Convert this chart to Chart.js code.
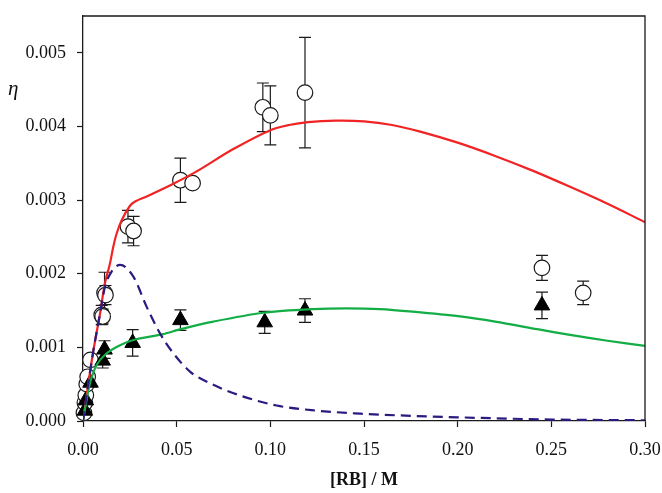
<!DOCTYPE html>
<html><head><meta charset="utf-8">
<script src="https://cdn.jsdelivr.net/npm/chart.js@4/dist/chart.umd.min.js"></script>
<style>html,body{margin:0;padding:0;background:#fff}#wrap{width:662px;height:493px}</style>
</head><body><div id="wrap"><canvas id="c" width="662" height="493"></canvas></div>
<script>
const xTicks = [0, 0.05, 0.10, 0.15, 0.20, 0.25, 0.30];
const yTicks = [0, 0.001, 0.002, 0.003, 0.004, 0.005];
const xTitle = '[RB] / M';
const yTitle = 'η';

// open circles (measured)
const circX = [0.0005,0.001,0.0015,0.002,0.0025,0.004,0.010,0.0105,0.0115,0.012,0.024,0.027,0.052,0.0585,0.096,0.100,0.1185,0.245,0.267];
const circY = [0.00011,0.00025,0.00035,0.0005,0.0006,0.00083,0.00144,0.00142,0.00174,0.00171,0.00264,0.00258,0.00327,0.00323,0.00426,0.00415,0.00446,0.00208,0.00174];
const circErr = [0,0,0,0,0,0,0.00013,0.0001,0.00028,0.00013,0.00022,0.0002,0.0003,0,0.00033,0.0004,0.00075,0.00017,0.00016];

// filled triangles (measured)
const triX = [0.001,0.0015,0.004,0.0105,0.0115,0.0265,0.052,0.097,0.1185,0.245];
const triY = [0.00014,0.00028,0.00052,0.00082,0.00097,0.00106,0.00137,0.00134,0.0015,0.00157];
const triErr = [0,0,0,0.0001,0.00012,0.00018,0.00014,0.00015,0.00016,0.00018];

// red fitted curve
const redX = [0,0.0028,0.0055,0.0091,0.0117,0.0144,0.0162,0.018,0.0207,0.025,0.0278,0.034,0.048,0.06,0.08,0.1,0.11,0.12,0.135,0.15,0.165,0.18,0.2,0.22,0.24,0.26,0.28,0.30];
const redY = [0,0.0005,0.00095,0.00146,0.00187,0.00214,0.00237,0.00255,0.00273,0.00292,0.00298,0.00305,0.00322,0.00338,0.00369,0.00395,0.00402,0.00406,0.00408,0.00407,0.00402,0.00393,0.00378,0.0036,0.0034,0.00318,0.00295,0.0027];

// green fitted curve
const greenX = [0,0.001,0.0037,0.0073,0.0126,0.0198,0.0269,0.0429,0.0518,0.0696,0.0963,0.123,0.1408,0.1586,0.176,0.2013,0.22,0.244,0.26,0.28,0.30];
const greenY = [0,0.00015,0.00051,0.00076,0.00092,0.00103,0.0011,0.00118,0.001245,0.00135,0.00147,0.00152,0.00153,0.00152,0.001485,0.00142,0.00135,0.00124,0.00117,0.00109,0.00102];

// dashed purple curve
const purpleX = [0,0.0028,0.0055,0.0091,0.0117,0.0153,0.0198,0.0269,0.034,0.0411,0.0482,0.0571,0.0625,0.068,0.08,0.1034,0.125,0.148,0.175,0.2,0.25,0.3];
const purpleY = [0,0.0005,0.00095,0.00146,0.00182,0.00203,0.00212,0.00196,0.00155,0.00119,0.00092,0.00067,0.00058,0.00051,0.00038,0.00021,0.00014,0.0001,0.00007,0.00005,0.00002,0.00001];

const pts = (xs, ys) => xs.map((x, i) => ({x: x, y: ys[i]}));
const FONT = 'Liberation Serif';
const AX = '#1a1a1a';

const errorBars = {
  id: 'errorBars',
  beforeDatasetsDraw(chart) {
    const {ctx, scales: {x, y}} = chart;
    ctx.save();
    ctx.strokeStyle = AX;
    ctx.lineWidth = 1.2;
    const draw = (xs, ys, es) => {
      xs.forEach((xv, i) => {
        const e = es[i];
        if (!e) return;
        const px = x.getPixelForValue(xv);
        const top = y.getPixelForValue(ys[i] + e);
        const bot = y.getPixelForValue(ys[i] - e);
        ctx.beginPath();
        ctx.moveTo(px, top); ctx.lineTo(px, bot);
        ctx.moveTo(px - 6, top); ctx.lineTo(px + 6, top);
        ctx.moveTo(px - 6, bot); ctx.lineTo(px + 6, bot);
        ctx.stroke();
      });
    };
    draw(circX, circY, circErr);
    draw(triX, triY, triErr);
    ctx.restore();
  }
};

const frame = {
  id: 'frame',
  afterDraw(chart) {
    const {ctx, chartArea: a} = chart;
    ctx.save();
    ctx.strokeStyle = AX;
    ctx.lineWidth = 1.3;
    ctx.beginPath();
    ctx.moveTo(a.left, a.top); ctx.lineTo(a.right, a.top); ctx.lineTo(a.right, a.bottom);
    ctx.stroke();
    ctx.fillStyle = '#111';
    ctx.font = 'italic 21px "' + FONT + '"';
    ctx.textBaseline = 'alphabetic';
    ctx.textAlign = 'left';
    ctx.fillText(yTitle, 8, 95);
    ctx.restore();
  }
};

const zeroPad = s => { s.paddingLeft = 0; s.paddingRight = 0; s.paddingTop = 0; s.paddingBottom = 0; };

new Chart(document.getElementById('c'), {
  type: 'scatter',
  data: {
    datasets: [
      {label: 'circles', data: pts(circX, circY), pointStyle: 'circle', pointRadius: 7.8,
       pointBackgroundColor: '#ffffff', pointBorderColor: AX, pointBorderWidth: 1.2, showLine: false, order: 10, clip: false},
      {label: 'triangles', data: pts(triX, triY), pointStyle: 'triangle', pointRadius: 9,
       pointBackgroundColor: '#000000', pointBorderColor: '#000000', pointBorderWidth: 1, showLine: false, order: 9, clip: false},
      {label: 'red', type: 'line', data: pts(redX, redY), borderColor: '#f02424', borderWidth: 2.2,
       pointRadius: 0, tension: 0.3, fill: false, order: 4},
      {label: 'green', type: 'line', data: pts(greenX, greenY), borderColor: '#12ad45', borderWidth: 2.2,
       pointRadius: 0, tension: 0.3, fill: false, order: 3},
      {label: 'purple', type: 'line', data: pts(purpleX, purpleY), borderColor: '#2a1b80', borderWidth: 2.2,
       borderDash: [10, 6], pointRadius: 0, cubicInterpolationMode: 'monotone', fill: false, order: 2}
    ]
  },
  options: {
    responsive: false,
    animation: false,
    devicePixelRatio: 1,
    layout: {padding: {left: 0, right: 17, top: 16, bottom: 0}},
    plugins: {legend: {display: false}, tooltip: {enabled: false}},
    scales: {
      x: {
        type: 'linear', min: 0, max: 0.30,
        afterBuildTicks: s => { s.ticks = xTicks.map(v => ({value: v})); },
        afterFit: s => { s.height = 72; zeroPad(s); },
        grid: {drawOnChartArea: false, drawTicks: true, tickLength: 6, color: AX, tickWidth: 1.2},
        border: {color: AX, width: 1.3},
        ticks: {color: '#111', font: {family: FONT, size: 18}, padding: 12, maxRotation: 0, autoSkip: false,
                callback: v => Number(v).toFixed(2)},
        title: {display: true, text: xTitle, color: '#111', font: {family: FONT, size: 18, weight: 'bold'}, padding: {top: 0, bottom: 2}}
      },
      y: {
        type: 'linear', min: 0, max: 0.0055,
        afterBuildTicks: s => { s.ticks = yTicks.map(v => ({value: v})); },
        afterFit: s => { s.width = 83; zeroPad(s); },
        grid: {drawOnChartArea: false, drawTicks: true, tickLength: 6, color: AX, tickWidth: 1.2},
        border: {color: AX, width: 1.3},
        ticks: {color: '#111', font: {family: FONT, size: 18}, padding: 11,
                callback: v => Number(v).toFixed(3)}
      }
    }
  },
  plugins: [errorBars, frame]
});
</script></body></html>
